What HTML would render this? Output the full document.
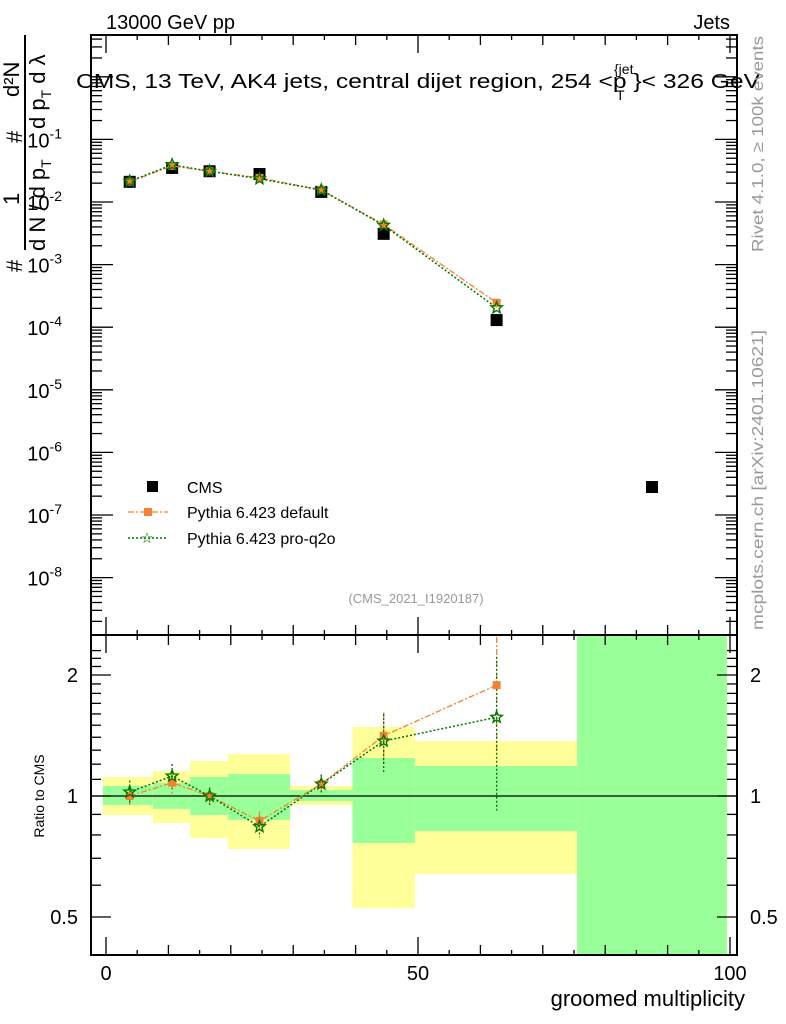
<!DOCTYPE html>
<html><head><meta charset="utf-8"><style>
body{margin:0;background:#fff}
svg{display:block;font-family:"Liberation Sans",sans-serif}
</style></head><body>
<svg id="c" width="786" height="1024" viewBox="0 0 786 1024">
<rect width="786" height="1024" fill="#fff"/>
<g id="bands"></g>
<g id="axes"></g>
<g id="marks"></g>
<text x="106" y="29" font-size="20">13000 GeV pp</text>
<text x="730" y="29" font-size="20" text-anchor="end">Jets</text>
<text x="76" y="88" font-size="20" textLength="684" lengthAdjust="spacingAndGlyphs">CMS, 13 TeV, AK4 jets, central dijet region, 254 &lt;p  }&lt; 326 GeV</text>
<text x="614" y="74" font-size="14">{jet</text>
<text x="616" y="100" font-size="14">T</text>
<text x="416" y="603" font-size="13" fill="#999" text-anchor="middle">(CMS_2021_I1920187)</text>
<text transform="translate(763,252) rotate(-90)" font-size="16" fill="#999" textLength="216" lengthAdjust="spacingAndGlyphs">Rivet 4.1.0, ≥ 100k events</text>
<text transform="translate(763,630) rotate(-90)" font-size="16" fill="#999" textLength="300" lengthAdjust="spacingAndGlyphs">mcplots.cern.ch [arXiv:2401.10621]</text>
<text transform="translate(44,796) rotate(-90)" font-size="14" text-anchor="middle">Ratio to CMS</text>
<text x="745" y="1006" font-size="22" text-anchor="end">groomed multiplicity</text>
<g font-size="22">
<text transform="translate(22,272) rotate(-90)">#</text>
<text transform="translate(19,205) rotate(-90)">1</text>
<text transform="translate(22,143) rotate(-90)">#</text>
<text transform="translate(19,97) rotate(-90)">d²N</text>
<line x1="25" y1="250" x2="25" y2="35" stroke="#000" stroke-width="2"/>
<text transform="translate(45,251) rotate(-90)">d N / d p<tspan font-size="14" dy="6">T</tspan></text>
<text transform="translate(45,129) rotate(-90)">d p<tspan font-size="14" dy="6">T</tspan><tspan dy="-6"> d λ</tspan></text>
</g>
<g font-size="16">
<rect x="147" y="481" width="11" height="11" fill="#000"/>
<text x="187" y="493">CMS</text>
<line x1="128" y1="512" x2="168" y2="512" stroke="#f58231" stroke-width="1.3" stroke-dasharray="6,2,2,2"/>
<rect x="144" y="508" width="8" height="8" fill="#f58231"/>
<text x="187" y="518">Pythia 6.423 default</text>
<line x1="128" y1="538" x2="168" y2="538" stroke="#007700" stroke-width="1.5" stroke-dasharray="2,2"/>
<text x="147" y="543" font-size="15" fill="#007700" text-anchor="middle">☆</text>
<text x="187" y="544">Pythia 6.423 pro-q2o</text>
</g>
</svg>
<script>
const binEdges=[-0.5,7.5,13.5,19.5,29.5,39.5,49.5,75.5,99.5];
const binCenters=[3.8,10.6,16.6,24.6,34.5,44.5,62.6,87.5];
const cmsValues=[2.1e-2,3.5e-2,3.1e-2,2.8e-2,1.45e-2,3.1e-3,1.3e-4,2.8e-7];
const ratioDefault=[1.0,1.079,1.0,0.867,1.071,1.412,1.887];
const ratioDefaultErr=[0.05,0.07,0.05,0.05,0.06,0.2,0.6];
const ratioProq2o=[1.023,1.121,1.0,0.839,1.071,1.37,1.57];
const ratioProq2oErr=[0.07,0.08,0.05,0.05,0.06,0.23,0.65];
const bandYellowLo=[0.897,0.857,0.786,0.738,0.950,0.526,0.640,0.1];
const bandYellowHi=[1.115,1.154,1.222,1.272,1.059,1.485,1.370,10];
const bandGreenLo=[0.950,0.929,0.897,0.872,0.972,0.764,0.818,0.1];
const bandGreenHi=[1.059,1.077,1.115,1.134,1.035,1.243,1.187,10];
const mainTicks=[-1,-2,-3,-4,-5,-6,-7,-8];
const ratioTicks=[0.5,1,2];
const xTicks=[0,50,100];

const NS='http://www.w3.org/2000/svg';
const L=91,R=737,T=35,MB=635,RB=955;
const sx=v=>106+v*6.24;
const sy=v=>202-62.6*(Math.log10(v)+2);
const sr=v=>796-402*Math.log10(v);
const clampR=y=>Math.max(MB,Math.min(RB,y));
function mk(p,tag,at){const e=document.createElementNS(NS,tag);for(const k in at)e.setAttribute(k,at[k]);p.appendChild(e);return e;}
const bands=document.getElementById('bands'),axes=document.getElementById('axes'),marks=document.getElementById('marks');

for(let i=0;i<binEdges.length-1;i++){
  const x0=sx(binEdges[i]),x1=sx(binEdges[i+1]);
  const y=mk(bands,'rect',{x:x0,y:clampR(sr(bandYellowHi[i])),width:x1-x0,height:clampR(sr(bandYellowLo[i]))-clampR(sr(bandYellowHi[i])),fill:'#ffff99'});
  
  
  const g=mk(bands,'rect',{x:x0,y:clampR(sr(bandGreenHi[i])),width:x1-x0,height:clampR(sr(bandGreenLo[i]))-clampR(sr(bandGreenHi[i])),fill:'#99ff99'});
  
  
}
mk(axes,'rect',{x:L,y:T,width:R-L,height:MB-T,fill:'none',stroke:'#000','stroke-width':2});
mk(axes,'rect',{x:L,y:MB,width:R-L,height:RB-MB,fill:'none',stroke:'#000','stroke-width':2});
mk(axes,'line',{x1:L,x2:R,y1:sr(1),y2:sr(1),stroke:'#000','stroke-width':1.3});
for(let v=0;v<=100;v+=5){
  const x=sx(v),len=v%50==0?18:(v%10==0?10:5);
  [[MB,-1],[T,1],[RB,-1],[MB,1]].forEach(([y,d])=>mk(axes,'line',{x1:x,x2:x,y1:y,y2:y+d*len,stroke:'#000','stroke-width':1.3}));
}
xTicks.forEach(v=>{const t=mk(axes,'text',{x:sx(v),y:980,'font-size':20,'text-anchor':'middle'});t.textContent=v;
 
 });
for(let e=-9;e<=0;e++){
  for(let m=1;m<10;m++){
    const v=m*Math.pow(10,e),y=sy(v);if(y<T||y>MB)continue;
    const len=m==1?22:11;
    mk(axes,'line',{x1:L,x2:L+len,y1:y,y2:y,stroke:'#000','stroke-width':1.3});
    mk(axes,'line',{x1:R,x2:R-len,y1:y,y2:y,stroke:'#000','stroke-width':1.3});
  }
}
mainTicks.forEach(e=>{const t=mk(axes,'text',{x:62,y:sy(Math.pow(10,e))+8,'font-size':20,'text-anchor':'end'});
 t.innerHTML='10<tspan dy="-9" font-size="14">'+e+'</tspan>';
 
 });
for(let v=0.4;v<=2.3;v=Math.round((v+0.1)*10)/10){
  const y=sr(v);if(y<MB||y>RB)continue;
  const len=(v==0.5||v==1||v==2)?20:10;
  mk(axes,'line',{x1:L,x2:L+len,y1:y,y2:y,stroke:'#000','stroke-width':1.3});
  mk(axes,'line',{x1:R,x2:R-len,y1:y,y2:y,stroke:'#000','stroke-width':1.3});
}
ratioTicks.forEach(v=>{[[78,'end'],[750,'start']].forEach(([x,a])=>{const t=mk(axes,'text',{x:x,y:sr(v)+7,'font-size':20,'text-anchor':a});t.textContent=v;
 
 });});

const defMain=ratioDefault.map((r,i)=>r*cmsValues[i]);
const proMain=ratioProq2o.map((r,i)=>r*cmsValues[i]);
function line(pts,color,dash,w,name){const p=mk(marks,'polyline',{points:pts.map(p=>p.join(',')).join(' '),fill:'none',stroke:color,'stroke-width':w,'stroke-dasharray':dash});
 
 }
function sq(x,y,s,c,name){const r=mk(marks,'rect',{x:x-s/2,y:y-s/2,width:s,height:s,fill:c});
 
 }
function star(x,y,name){const pts=[];for(let k=0;k<10;k++){const a=-Math.PI/2+k*Math.PI/5,rr=k%2?2.6:6;pts.push((x+rr*Math.cos(a)).toFixed(1)+','+(y+rr*Math.sin(a)).toFixed(1));}
 const p=mk(marks,'polygon',{points:pts.join(' '),fill:'none',stroke:'#007700','stroke-width':1.4});
 
 }
cmsValues.forEach((v,i)=>sq(sx(binCenters[i]),sy(v),12,'#000','cms-point'));
line(defMain.map((v,i)=>[sx(binCenters[i]),sy(v)]),'#f58231','6,2,2,2',1.3,'default-line');
line(proMain.map((v,i)=>[sx(binCenters[i]),sy(v)]),'#007700','2,2',1.5,'proq2o-line');
defMain.forEach((v,i)=>sq(sx(binCenters[i]),sy(v),8,'#f58231','default-point'));
proMain.forEach((v,i)=>star(sx(binCenters[i]),sy(v),'proq2o-point'));
function err(x,r,e,c,dash,name){const l=mk(marks,'line',{x1:x,x2:x,y1:clampR(sr(r+e)),y2:clampR(sr(Math.max(r-e,0.05))),stroke:c,'stroke-width':1.3,'stroke-dasharray':dash});
 
 }
ratioDefault.forEach((r,i)=>err(sx(binCenters[i]),r,ratioDefaultErr[i],'#f58231','6,2,2,2','default-ratio-error'));
ratioProq2o.forEach((r,i)=>err(sx(binCenters[i]),r,ratioProq2oErr[i],'#007700','2,2','proq2o-ratio-error'));
line(ratioDefault.map((r,i)=>[sx(binCenters[i]),sr(r)]),'#f58231','6,2,2,2',1.3,'default-ratio-line');
line(ratioProq2o.map((r,i)=>[sx(binCenters[i]),sr(r)]),'#007700','2,2',1.5,'proq2o-ratio-line');
ratioDefault.forEach((r,i)=>sq(sx(binCenters[i]),sr(r),8,'#f58231','default-ratio-point'));
ratioProq2o.forEach((r,i)=>star(sx(binCenters[i]),sr(r),'proq2o-ratio-point'));
</script>
</body></html>
